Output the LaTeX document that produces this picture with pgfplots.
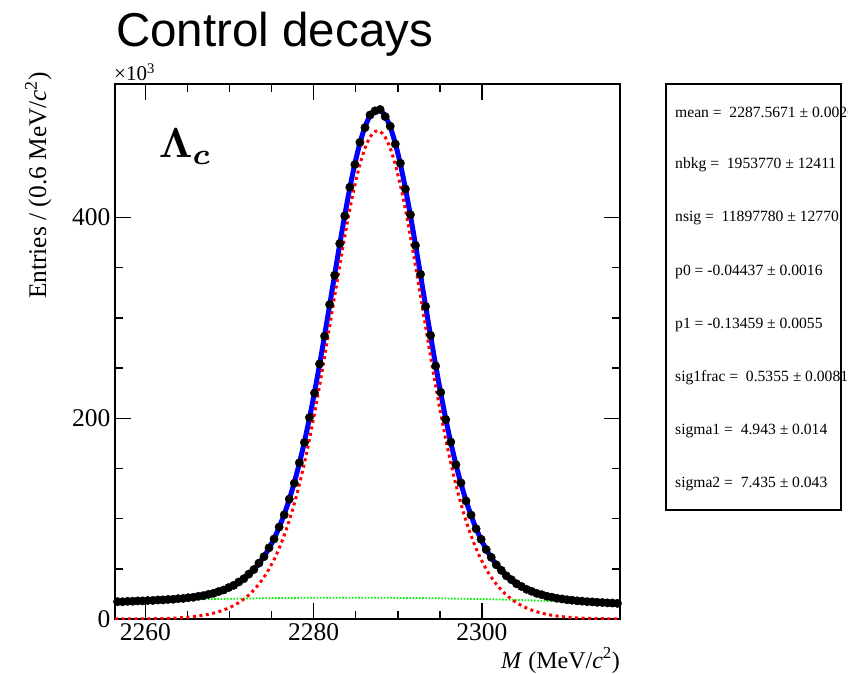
\documentclass[border=0pt]{standalone}
\usepackage{fontspec}
\setmainfont{Liberation Serif}
\newfontfamily\arialfont{Liberation Sans}
\usepackage{amsmath}
\usepackage{pgfplots}
\pgfplotsset{compat=1.18}
\usepackage{pgfplotstable}

% x: M (MeV/c^2); d: data; t: total fit; s: signal; b: background  (all in 10^3 entries per 0.6 MeV)
\pgfplotstableread{
x d t s b
2256.4 nan 17.04 0.03 17.01
2256.7 17.25 17.13 0.03 17.10
2257.3 17.18 17.33 0.04 17.29
2257.9 17.60 17.52 0.06 17.46
2258.5 17.66 17.71 0.08 17.63
2259.1 18.02 17.91 0.11 17.80
2259.7 18.05 18.13 0.16 17.97
2260.3 18.41 18.34 0.21 18.13
2260.9 18.50 18.57 0.28 18.29
2261.5 18.95 18.82 0.38 18.44
2262.1 19.02 19.09 0.50 18.59
2262.7 19.45 19.38 0.65 18.73
2263.3 19.66 19.72 0.85 18.87
2263.9 20.25 20.12 1.11 19.01
2264.5 20.49 20.57 1.43 19.14
2265.1 21.22 21.10 1.83 19.27
2265.7 21.65 21.73 2.34 19.39
2266.3 22.60 22.48 2.97 19.51
2266.9 23.30 23.37 3.74 19.63
2267.5 24.55 24.42 4.68 19.74
2268.1 25.60 25.69 5.84 19.85
2268.7 27.35 27.19 7.24 19.95
2269.3 28.85 28.98 8.93 20.05
2269.9 31.30 31.12 10.97 20.15
2270.5 33.50 33.65 13.41 20.24
2271.1 36.85 36.66 16.33 20.33
2271.7 40.10 40.24 19.83 20.41
2272.3 44.70 44.47 23.97 20.50
2272.9 49.30 49.48 28.91 20.57
2273.5 55.65 55.39 34.75 20.64
2274.1 62.10 62.35 41.64 20.71
2274.7 70.90 70.51 49.74 20.77
2275.3 79.70 80.06 59.23 20.83
2275.9 91.60 91.20 70.31 20.89
2276.5 103.70 104.11 83.17 20.94
2277.1 119.40 118.95 97.96 20.99
2277.7 135.30 135.87 114.84 21.03
2278.3 155.60 155.00 133.93 21.07
2278.9 175.80 176.39 155.28 21.11
2279.5 200.70 200.00 178.86 21.14
2280.1 225.10 225.73 204.56 21.17
2280.7 254.10 253.32 232.13 21.19
2281.3 281.80 282.41 261.20 21.21
2281.9 313.30 312.55 291.32 21.23
2282.5 342.40 343.06 321.82 21.24
2283.1 374.00 373.25 352.00 21.25
2283.7 401.60 402.31 381.06 21.25
2284.3 430.20 429.38 408.13 21.25
2284.9 452.80 453.59 432.34 21.25
2285.5 474.90 474.11 452.87 21.24
2286.1 489.50 490.21 468.99 21.22
2286.7 502.10 501.29 480.08 21.21
2287.3 506.20 506.93 485.74 21.19
2287.9 507.60 506.90 485.74 21.16
2288.5 500.50 501.21 480.08 21.13
2289.1 490.90 490.09 468.99 21.10
2289.7 473.20 473.93 452.87 21.06
2290.3 454.10 453.36 432.34 21.02
2290.9 428.40 429.11 408.13 20.98
2291.5 402.80 401.99 381.06 20.93
2292.1 372.10 372.88 352.00 20.88
2292.7 343.40 342.64 321.82 20.82
2293.3 311.40 312.08 291.32 20.76
2293.9 282.60 281.89 261.20 20.69
2294.5 252.10 252.76 232.13 20.63
2295.1 225.80 225.11 204.56 20.55
2295.7 198.70 199.34 178.86 20.48
2296.3 176.30 175.68 155.28 20.40
2296.9 153.70 154.24 133.93 20.31
2297.5 135.60 135.06 114.84 20.22
2298.1 117.60 118.09 97.96 20.13
2298.7 103.60 103.20 83.17 20.03
2299.3 89.90 90.24 70.31 19.93
2299.9 79.40 79.05 59.23 19.82
2300.5 69.20 69.46 49.74 19.72
2301.1 61.50 61.24 41.64 19.60
2301.7 54.00 54.23 34.75 19.48
2302.3 48.50 48.27 28.91 19.36
2302.9 43.00 43.21 23.97 19.24
2303.5 39.15 38.94 19.83 19.11
2304.1 35.15 35.31 16.33 18.98
2304.7 32.40 32.25 13.41 18.84
2305.3 29.55 29.67 10.97 18.70
2305.9 27.60 27.48 8.93 18.55
2306.5 25.55 25.64 7.24 18.40
2307.1 24.20 24.09 5.84 18.25
2307.7 22.70 22.77 4.68 18.09
2308.3 21.75 21.67 3.74 17.93
2308.9 20.65 20.73 2.97 17.76
2309.5 20.00 19.93 2.34 17.59
2310.1 19.20 19.25 1.83 17.42
2310.7 18.73 18.67 1.43 17.24
2311.3 18.12 18.17 1.11 17.06
2311.9 17.78 17.72 0.85 16.87
2312.5 17.30 17.34 0.65 16.69
2313.1 17.04 16.99 0.50 16.49
2313.7 16.62 16.67 0.38 16.29
2314.3 16.42 16.37 0.28 16.09
2314.9 16.06 16.10 0.21 15.89
2315.5 15.88 15.84 0.16 15.68
2316.1 15.55 15.57 0.11 15.46
2316.4 nan 15.45 0.10 15.35
}\tbl

\definecolor{rootgreen}{RGB}{0,245,0}

\begin{document}
\begin{tikzpicture}
\useasboundingbox (0,0) rectangle (867pt,673pt);
\begin{axis}[
  at={(115pt,54pt)}, anchor=south west,
  scale only axis, width=505pt, height=535pt,
  xmin=2256.4, xmax=2316.4, ymin=0, ymax=533,
  xtick={2260,2280,2300}, ytick={0,200,400},
  minor x tick num=3, minor y tick num=3,
  tick align=inside, tick pos=both,
  major tick length=16pt, minor tick length=8pt,
  every tick/.style={black, line width=1.5pt},
  axis line style={line width=2pt},
  tick label style={font=\fontsize{25.5}{25.5}\selectfont},
  /pgf/number format/assume math mode=true,
  xticklabel style={/pgf/number format/1000 sep={}, yshift=-1pt},
  yticklabel style={xshift=-1pt},
  scaled ticks=false,
  unbounded coords=discard,
]
\addplot[black, only marks, mark=*, mark size=4.2pt] table[x=x,y=d]{\tbl};
\addplot[blue, line width=5pt, smooth] table[x=x,y=t]{\tbl};
\addplot[rootgreen, line width=1.8pt, dash pattern=on 1.6pt off 1.6pt] table[x=x,y=b]{\tbl};
\addplot[red, line width=3pt, dash pattern=on 3pt off 3.5pt, smooth] table[x=x,y=s]{\tbl};
\end{axis}

% title
\node[anchor=base west, inner sep=0] at (116pt,626pt) {\arialfont\fontsize{47.5}{47.5}\selectfont Control decays};
% exponent
\node[anchor=base west, inner sep=0] at (114pt,592pt) {\fontsize{21}{21}\selectfont ×10\textsuperscript{3}};
% y label
\node[rotate=90, anchor=base east, inner sep=0] at (46pt,601pt) {\fontsize{25.4}{25.4}\selectfont Entries / (0.6 MeV/\textit{c}\textsuperscript{2})};
% x label
\node[anchor=base east, inner sep=0] at (620pt,5pt) {\fontsize{24}{24}\selectfont\textit{M} (MeV/\textit{c}\textsuperscript{2})};
% Lambda_c
\node[anchor=base west, inner sep=0, scale=4.2] at (158pt,515pt) {$\boldsymbol{\Lambda}_{\boldsymbol{c}}$};

% fit parameter box
\draw[line width=2pt] (666pt,163pt) rectangle (841pt,589pt);
\begin{scope}
\clip (600pt,0pt) rectangle (847pt,673pt);
\begin{scope}[every node/.style={anchor=west, inner sep=0, font=\fontsize{15.6}{15.6}\selectfont}]
\node at (675pt,561pt) {mean = \ 2287.5671 ± 0.0020};
\node at (675pt,507.8pt) {nbkg = \ 1953770 ± 12411};
\node at (675pt,454.6pt) {nsig = \ 11897780 ± 12770};
\node at (675pt,401.4pt) {p0 = -0.04437 ± 0.0016};
\node at (675pt,348.2pt) {p1 = -0.13459 ± 0.0055};
\node at (675pt,295pt) {sig1frac = \ 0.5355 ± 0.0081};
\node at (675pt,241.8pt) {sigma1 = \ 4.943 ± 0.014};
\node at (675pt,188.6pt) {sigma2 = \ 7.435 ± 0.043};
\end{scope}
\end{scope}
\end{tikzpicture}
\end{document}
